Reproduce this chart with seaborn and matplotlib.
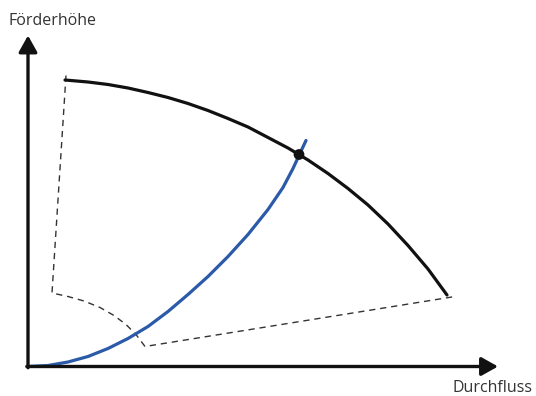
import numpy as np
import pandas as pd
import matplotlib
matplotlib.use("Agg")
import matplotlib.pyplot as plt
import seaborn as sns

# schematic units: origin of the diagram at (0, 0), one unit ~ one pixel
pump_q = [37, 60, 80, 100, 120, 140, 160, 180, 200, 220, 240, 260, 280, 300, 320,
          340, 360, 380, 400, 419]
pump_h = [286.5, 284.5, 282, 278.5, 274, 269, 263, 256, 248, 239.5, 229, 218.5, 206.5,
          193, 178, 161.5, 142.5, 121, 97.5, 71.5]

system_q = [0, 20, 40, 60, 80, 100, 120, 140, 160, 180, 200, 220, 240, 255, 265, 271, 278]
system_h = [0, 1, 4.5, 10, 18, 28, 40, 55, 72, 90, 110, 132, 157, 179, 198, 211, 226]

# dashed limits of the working range
range_q = [38, 24, 40, 56, 72, 86, 98, 108, 117, 427]
range_h = [291, 73.5, 70, 65.5, 59, 51, 42, 32, 20, 70]

op_q = [271]
op_h = [212]

x_label = "Durchfluss"
y_label = "Förderhöhe"
x_axis_end = 470
y_axis_end = 331

sns.set_style("white")
plt.rcParams["font.family"] = ["Open Sans", "DejaVu Sans"]

fig = plt.figure(figsize=(5.36, 3.96), dpi=100)
ax = fig.add_axes([0, 0, 1, 1])
ax.set_xlim(-28, 508)
ax.set_ylim(-29.5, 366.5)
ax.axis("off")

pump = pd.DataFrame({"q": pump_q, "h": pump_h})
system = pd.DataFrame({"q": system_q, "h": system_h})
limits = pd.DataFrame({"q": range_q, "h": range_h})

sns.lineplot(data=limits, x="q", y="h", sort=False, estimator=None, ax=ax,
             color="#333333", linewidth=1.0)
ax.lines[-1].set_dashes((4.5, 3.5))
sns.lineplot(data=system, x="q", y="h", sort=False, estimator=None, ax=ax,
             color="#2b5aa8", linewidth=2.3, solid_joinstyle="round")
sns.lineplot(data=pump, x="q", y="h", sort=False, estimator=None, ax=ax,
             color="#111111", linewidth=2.3, solid_joinstyle="round")
sns.scatterplot(x=op_q, y=op_h, ax=ax, color="#111111", s=60, edgecolor="none", zorder=5)

arrow = dict(arrowstyle="-|>,head_length=0.5,head_width=0.28", color="#111111",
             lw=2.4, mutation_scale=20, shrinkA=0, shrinkB=0)
ax.annotate("", xy=(0, y_axis_end), xytext=(0, -1.2), arrowprops=arrow)
ax.annotate("", xy=(x_axis_end, 0), xytext=(-1.2, 0), arrowprops=arrow)

ax.text(-20, 345.5, y_label, fontsize=11.5, color="#333333", ha="left", va="center")
ax.text(505, -21.5, x_label, fontsize=11.5, color="#333333", ha="right", va="center")

fig.savefig("out.png", dpi=100)
